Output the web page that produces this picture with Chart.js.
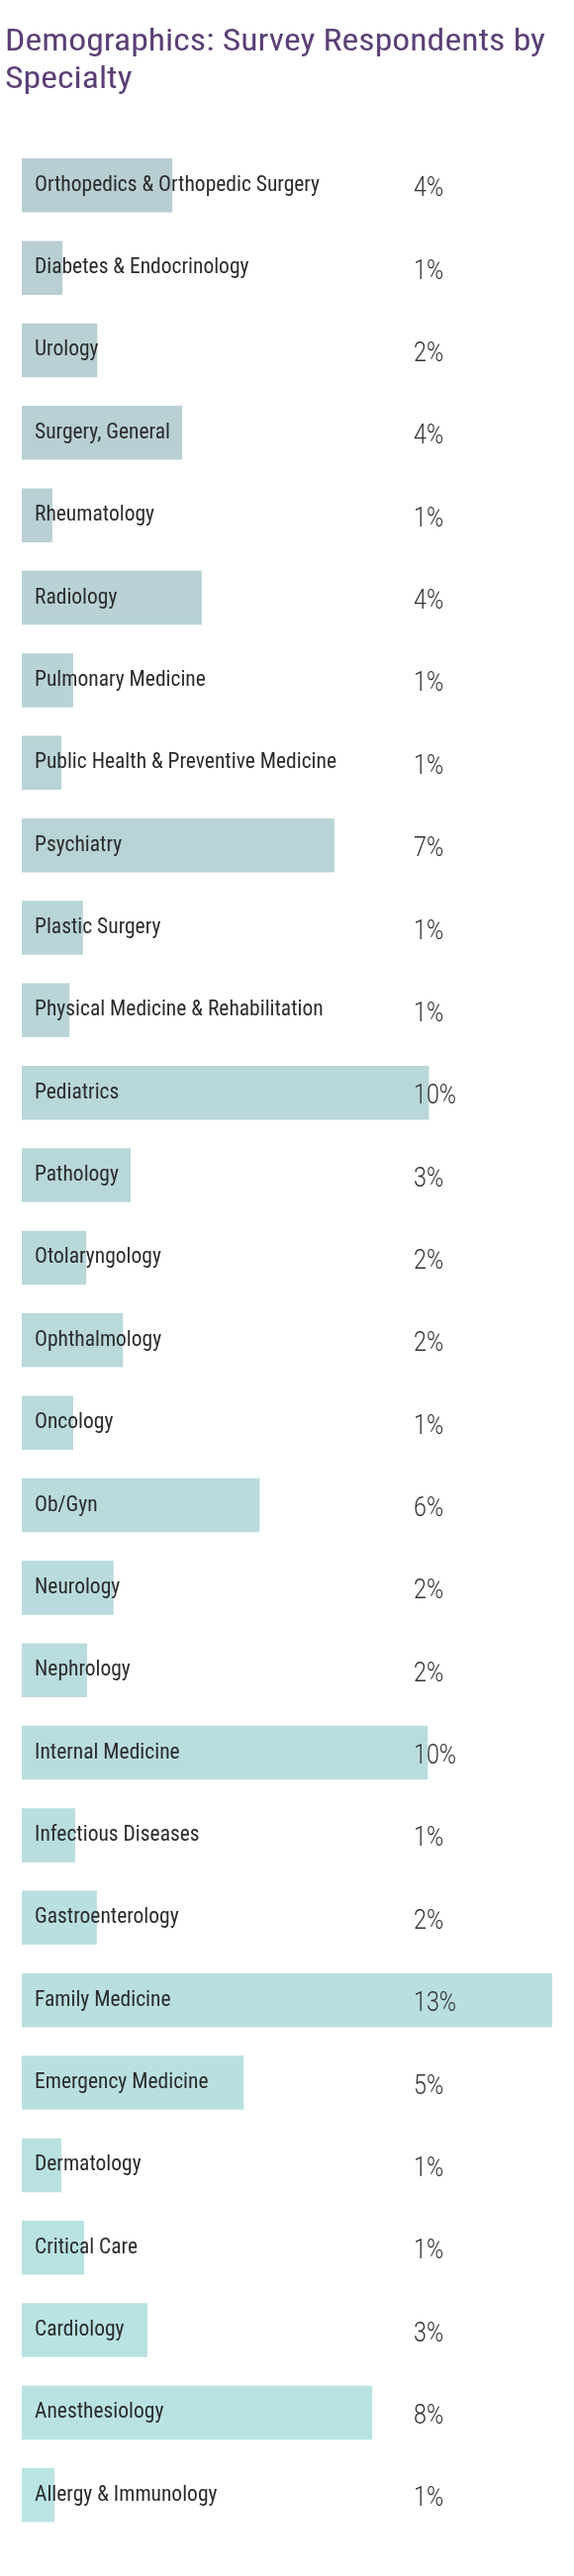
<!DOCTYPE html>
<html>
<head>
<meta charset="utf-8">
<title>Demographics: Survey Respondents by Specialty</title>
<script src="https://cdn.jsdelivr.net/npm/chart.js@4.4.1/dist/chart.umd.min.js"></script>
<style>
html, body { margin: 0; padding: 0; background: #fff; }
#wrap { position: relative; width: 580px; height: 2603px; }
#title {
    position: absolute; left: 5px; top: 22px; margin: 0; white-space: nowrap;
    font-family: 'Roboto Condensed', Roboto, sans-serif;
    font-weight: normal; font-size: 31px; line-height: 38px; color: #5b3f76;
    transform-origin: 0 0;
}
#myChart { position: absolute; left: 0; top: 0; }
</style>
</head>
<body>
<div id="wrap">
    <canvas id="myChart" width="580" height="2603"></canvas>
    <h1 id="title">Demographics: Survey Respondents by<br>Specialty</h1>
</div>
<script>
const specialties = [
    'Orthopedics & Orthopedic Surgery', 'Diabetes & Endocrinology', 'Urology', 'Surgery, General',
    'Rheumatology', 'Radiology', 'Pulmonary Medicine', 'Public Health & Preventive Medicine',
    'Psychiatry', 'Plastic Surgery', 'Physical Medicine & Rehabilitation', 'Pediatrics',
    'Pathology', 'Otolaryngology', 'Ophthalmology', 'Oncology', 'Ob/Gyn', 'Neurology',
    'Nephrology', 'Internal Medicine', 'Infectious Diseases', 'Gastroenterology',
    'Family Medicine', 'Emergency Medicine', 'Dermatology', 'Critical Care', 'Cardiology',
    'Anesthesiology', 'Allergy & Immunology'
];
// bar lengths (percent of respondents)
const shares = [
    3.69, 1.00, 1.85, 3.93, 0.75, 4.41, 1.26, 0.97, 7.66, 1.50, 1.17, 9.98, 2.67, 1.58,
    2.48, 1.26, 5.83, 2.25, 1.60, 9.95, 1.31, 1.84, 13.0, 5.44, 0.97, 1.53, 3.08, 8.59, 0.80
];
// printed values, as shown in the right column
const shareLabels = [
    '4%', '1%', '2%', '4%', '1%', '4%', '1%', '1%', '7%', '1%', '1%', '10%', '3%', '2%',
    '2%', '1%', '6%', '2%', '2%', '10%', '1%', '2%', '13%', '5%', '1%', '1%', '3%', '8%', '1%'
];

const labelFont = "400 22px 'Roboto Condensed', Roboto, sans-serif";
const valueFont = "300 28px Roboto, sans-serif";

// how much to squeeze a string so it is as wide as in the picture
function squeeze(font, text, target) {
    const c = document.createElement('canvas').getContext('2d');
    c.font = font;
    return Math.min(1.15, target / c.measureText(text).width);
}
const labelScale = squeeze(labelFont, 'Public Health & Preventive Medicine', 305);
const valueScale = squeeze(valueFont, '10%', 43);

// title: same trick with css
(function () {
    const c = document.createElement('canvas').getContext('2d');
    c.font = "400 31px 'Roboto Condensed', Roboto, sans-serif";
    const w = c.measureText('Demographics: Survey Respondents by').width;
    document.getElementById('title').style.transform = 'scaleX(' + (546 / w) + ')';
})();

// bars fade from grey-blue at the top to light teal at the bottom
function barColor(c) {
    const t = c.dataIndex / (specialties.length - 1);
    const r = Math.round(184 + (185 - 184) * t);
    const g = Math.round(206 + (228 - 206) * t);
    const b = Math.round(210 + (228 - 210) * t);
    return 'rgb(' + r + ',' + g + ',' + b + ')';
}

function drawSqueezed(ctx, text, x, y, sx) {
    ctx.save();
    ctx.translate(x, y);
    ctx.scale(sx, 1);
    ctx.fillText(text, 0, 0);
    ctx.restore();
}

// category names inside the bars and the printed share in a column on the right
const barText = {
    id: 'barText',
    afterDatasetsDraw(chart) {
        const ctx = chart.ctx;
        const y = chart.scales.y;
        const left = chart.chartArea.left;
        ctx.save();
        ctx.textAlign = 'left';
        ctx.textBaseline = 'alphabetic';
        ctx.font = labelFont;
        ctx.fillStyle = '#2b2b2b';
        for (let i = 0; i < specialties.length; i++) {
            drawSqueezed(ctx, specialties[i], left + 13, y.getPixelForValue(i) + 5.5, labelScale);
        }
        ctx.font = valueFont;
        ctx.fillStyle = '#333333';
        for (let i = 0; i < shareLabels.length; i++) {
            drawSqueezed(ctx, shareLabels[i], left + 396, y.getPixelForValue(i) + 11, valueScale);
        }
        ctx.restore();
    }
};

const ctx = document.getElementById('myChart').getContext('2d');
const myChart = new Chart(ctx, {
    type: 'bar',
    data: {
        labels: specialties,
        datasets: [{
            data: shares,
            backgroundColor: barColor,
            borderWidth: 0,
            barPercentage: 0.654,
            categoryPercentage: 1.0
        }]
    },
    options: {
        indexAxis: 'y',
        responsive: false,
        animation: false,
        layout: { padding: { top: 145.6, bottom: 40, left: 22, right: 22 } },
        plugins: {
            legend: { display: false },
            tooltip: { enabled: false }
        },
        scales: {
            x: { min: 0, max: 13, display: false },
            y: { display: false }
        }
    },
    plugins: [barText]
});
</script>
</body>
</html>
